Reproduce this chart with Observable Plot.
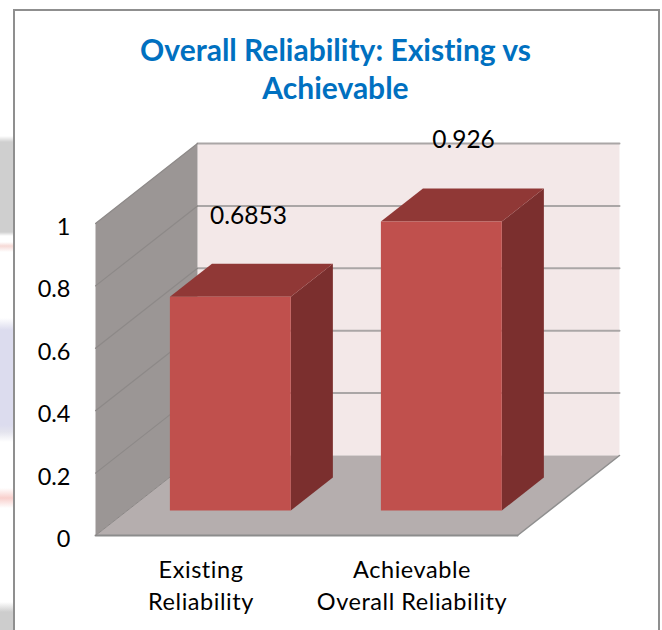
<!DOCTYPE html>
<html>
<head>
<meta charset="utf-8">
<script src="https://cdn.jsdelivr.net/npm/d3@7"></script>
<script src="https://cdn.jsdelivr.net/npm/@observablehq/plot@0.6"></script>
<style>
  html, body { margin: 0; padding: 0; background: #fff; width: 662px; height: 630px; overflow: hidden; }
  body { position: relative; font-family: Lato, "Open Sans", sans-serif; font-variant-ligatures: none; }
  #backdrop {
    position: absolute; left: 0; top: 0; width: 14px; height: 630px;
    background: linear-gradient(to bottom,
      #fff 0 136px, #cfcfcf 142px 232px, #fff 236px 242px, #f6d9d6 246px, #fff 252px 318px,
      #dcdcee 330px 425px, #e4e4ee 432px, #fff 442px 488px, #f8cfcc 498px, #fff 508px 602px,
      #cdcdcd 612px 630px);
  }
  #frame {
    position: absolute; left: 13px; top: 9px; width: 643px; height: 640px;
    border: 2px solid #8f8f8f; background: #fff; box-sizing: content-box;
  }
  #title {
    position: relative; height: 130px; box-sizing: border-box; padding: 30px 50px 0 59px;
    color: #0070c0; font: 700 30px/38px Lato, sans-serif; text-align: center;
    font-variant-ligatures: none;
  }
  #chart { position: relative; }
  #chart svg { display: block; font-variant-ligatures: none; }
  #chart .category-label text { letter-spacing: 0.55px; }
</style>
</head>
<body>
<div id="backdrop"></div>
<div id="frame"></div>
<div id="title">Overall Reliability: Existing vs<br>Achievable</div>
<div id="chart"></div>
<script>
const categories = ["Existing\nReliability", "Achievable\nOverall Reliability"];
const reliability = [0.6853, 0.926];
const valueLabels = ["0.6853", "0.926"];
const yTicks = [0, 0.2, 0.4, 0.6, 0.8, 1];

// Oblique projection: depth 0 is the front of the floor, depth 1 the back wall.
const depthX = 0.4834;   // category units
const depthY = 0.2564;   // value units
const project = (u, v, d) => ({x: u + d * depthX, y: v + d * depthY});

const barWidth = 0.573;
const barDepthFront = 0.3125;
const barDepthBack = 0.725;
const barShift = -0.012;

const face = (corners, fill) =>
  Plot.line(corners.map(([u, v, d]) => project(u, v, d)), {x: "x", y: "y", fill, stroke: "none"});
const segment = (a, b, stroke, strokeWidth = 1.6) =>
  Plot.line([project(...a), project(...b)], {x: "x", y: "y", stroke, strokeWidth});

const uMax = categories.length;

const walls = [
  face([[0, 1, 1], [uMax, 1, 1], [uMax, 0, 1], [0, 0, 1]], "#f3e8e8"),
  face([[0, 0, 0], [0, 1, 0], [0, 1, 1], [0, 0, 1]], "#9b9695"),
  face([[0, 0, 0], [uMax, 0, 0], [uMax, 0, 1], [0, 0, 1]], "#b5aeae")
];

const grid = yTicks.filter(v => v > 0).flatMap(v => [
  segment([0, v, 1], [uMax, v, 1], "#aaa6a6", 2),
  segment([0, v, 0], [0, v, 1], "#8d8988", 1.2)
]);

const edges = [
  segment([0, 0, 0], [uMax, 0, 0], "#8c8c8c", 2),
  segment([uMax, 0, 0], [uMax, 0, 1], "#8f8f8f", 1.5),
  segment([0, 0, 0], [0, 0, 1], "#8b8786", 1)
];

const bars = reliability.flatMap((v, i) => {
  const u1 = i + 0.5 + barShift - barWidth / 2;
  const u2 = u1 + barWidth;
  const [d0, d1] = [barDepthFront, barDepthBack];
  return [
    face([[u2, 0, d0], [u2, v, d0], [u2, v, d1], [u2, 0, d1]], "#7b2f2e"),
    face([[u1, v, d0], [u2, v, d0], [u2, v, d1], [u1, v, d1]], "#903836"),
    face([[u1, 0, d0], [u2, 0, d0], [u2, v, d0], [u1, v, d0]], "#c0504d")
  ];
});

// Value labels float above and to the right of each bar.
const labels = reliability.map((v, i) =>
  Plot.text([{u: i + 0.5, v, label: valueLabels[i]}], {
    x: "u", y: "v", text: "label",
    dx: i === 0 ? 47.5 : 51.5, dy: -106,
    fontSize: 24.5, fill: "#000", fontFamily: "Lato, sans-serif"
  }));

const plot = Plot.plot({
  width: 662,
  height: 500,
  marginLeft: 95,
  marginRight: 145,
  marginTop: 93,
  marginBottom: 95,
  style: {background: "transparent", overflow: "visible"},
  x: {domain: [0, uMax], axis: null},
  y: {domain: [0, 1], axis: null},
  marks: [
    ...walls,
    ...grid,
    ...edges,
    ...bars,
    ...labels,
    Plot.axisY(yTicks, {
      anchor: "left", tickSize: 0, tickPadding: 25, label: null, dy: 4,
      tickFormat: d => String(d), fontSize: 23.5, fill: "#000", fontFamily: "Lato, sans-serif"
    }),
    Plot.text(categories, {
      x: (d, i) => i + 0.5, y: () => 0, text: d => d,
      dy: 48, lineHeight: 1.36, lineAnchor: "middle",
      fontSize: 23.5, fill: "#000", fontFamily: "Lato, sans-serif",
      textAnchor: "middle", className: "category-label"
    })
  ]
});
document.getElementById("chart").appendChild(plot);
</script>
</body>
</html>
